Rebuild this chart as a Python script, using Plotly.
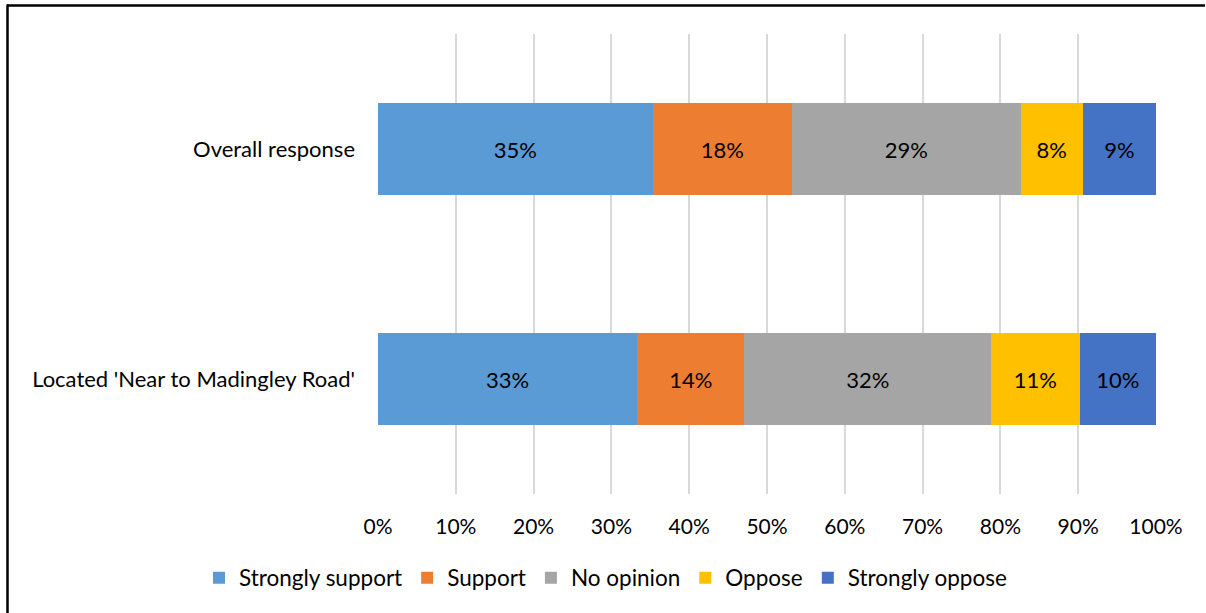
import plotly.graph_objects as go

# Response categories (y axis, bottom to top)
categories = ["Located 'Near to Madingley Road'", "Overall response"]

# Share of responses, percent
strongly_support = [33.3, 35.3]
support = [13.8, 17.9]
no_opinion = [31.7, 29.4]
oppose = [11.4, 8.0]
strongly_oppose = [9.8, 9.4]

series_names = ["Strongly support", "Support", "No opinion", "Oppose", "Strongly oppose"]
series_values = [strongly_support, support, no_opinion, oppose, strongly_oppose]
series_colors = ["#5b9bd5", "#ed7d31", "#a5a5a5", "#ffc000", "#4472c4"]

tick_values = [0, 10, 20, 30, 40, 50, 60, 70, 80, 90, 100]
tick_labels = ["0%", "10%", "20%", "30%", "40%", "50%", "60%", "70%", "80%", "90%", "100%"]

FONT = "Lato"
W, H = 1206, 613
ML, MR, MT, MB = 378, 50, 34, 119
PW, PH = W - ML - MR, H - MT - MB


def px_x(x):
    return (x - ML) / PW


def px_y(y):
    return (H - MB - y) / PH


fig = go.Figure()
for name, vals, color in zip(series_names, series_values, series_colors):
    fig.add_trace(go.Bar(
        y=categories,
        x=vals,
        name=name,
        orientation="h",
        marker=dict(color=color, line=dict(width=0)),
        texttemplate="%{x:.0f}%",
        textposition="inside",
        insidetextanchor="middle",
        textangle=0,
        textfont=dict(family=FONT, size=22, color="#000000"),
        constraintext="none",
    ))

fig.update_layout(
    barmode="stack",
    bargap=0.6,
    width=W,
    height=H,
    margin=dict(l=ML, r=MR, t=MT, b=MB, autoexpand=False),
    paper_bgcolor="white",
    plot_bgcolor="white",
    font=dict(family=FONT, size=22, color="#000000"),
    xaxis=dict(
        range=[0, 100],
        tickvals=tick_values,
        ticktext=tick_labels,
        showgrid=True,
        gridcolor="#d9d9d9",
        gridwidth=2,
        zeroline=False,
        showline=False,
        ticks="",
        tickfont=dict(family=FONT, size=21, color="#000000"),
        ticklabelstandoff=18,
    ),
    yaxis=dict(
        showgrid=False,
        showline=False,
        ticks="",
        tickfont=dict(family=FONT, size=22, color="#000000"),
        ticklabelstandoff=22,
    ),
    legend=dict(
        orientation="h",
        xref="paper",
        yref="paper",
        x=px_x(199),
        xanchor="left",
        y=px_y(578),
        yanchor="middle",
        font=dict(family=FONT, size=22.5, color="#000000"),
        traceorder="normal",
        itemwidth=30,
    ),
    showlegend=True,
)

# Frame: top and left edges of the chart area border
fig.add_shape(type="line", xref="paper", yref="paper",
              x0=px_x(7), x1=px_x(1205), y0=px_y(5.5), y1=px_y(5.5),
              line=dict(color="#000000", width=2.5))
fig.add_shape(type="line", xref="paper", yref="paper",
              x0=px_x(7.5), x1=px_x(7.5), y0=px_y(4.5), y1=px_y(620),
              line=dict(color="#000000", width=2.5))

fig.write_html("out.html")
